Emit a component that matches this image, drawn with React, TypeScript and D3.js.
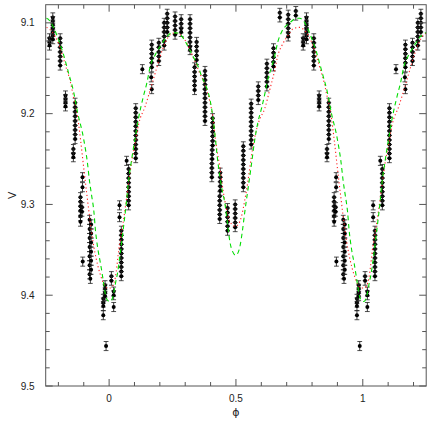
import React from 'react';
import * as d3 from 'd3';

const W = 436;
const H = 423;
const M = { left: 45.7, right: 9.8, top: 4.7, bottom: 37 };

const phaseDomain: [number, number] = [-0.25, 1.25];
const magDomain: [number, number] = [9.08, 9.5];
const xTickLabels = [0, 0.5, 1];
const xMinorTicks = [-0.2, -0.1, 0.1, 0.2, 0.3, 0.4, 0.6, 0.7, 0.8, 0.9, 1.1, 1.2];
const yTickLabels = [9.1, 9.2, 9.3, 9.4, 9.5];
const yMinorTicks = [9.12, 9.14, 9.16, 9.18, 9.22, 9.24, 9.26, 9.28, 9.32, 9.34, 9.36, 9.38, 9.42, 9.44, 9.46, 9.48];
const errBar = 0.005;

// Observations: [phase (0..1), V magnitude]
const observations: [number, number][] = [
  [0.009, 9.379], [0.009, 9.384],
  [0.018, 9.396], [0.018, 9.400], [0.018, 9.413],
  [0.041, 9.301], [0.041, 9.314],
  [0.048, 9.329], [0.048, 9.334], [0.048, 9.339], [0.048, 9.344], [0.048, 9.349], [0.048, 9.354],
  [0.048, 9.359], [0.048, 9.364], [0.048, 9.369], [0.048, 9.374], [0.048, 9.379],
  [0.069, 9.252],
  [0.077, 9.261], [0.077, 9.266], [0.077, 9.271], [0.077, 9.276], [0.077, 9.281], [0.077, 9.286],
  [0.077, 9.291], [0.077, 9.296], [0.077, 9.301],
  [0.105, 9.194], [0.105, 9.199], [0.105, 9.204], [0.105, 9.209], [0.105, 9.214], [0.105, 9.219],
  [0.105, 9.224], [0.105, 9.229], [0.105, 9.234], [0.105, 9.239], [0.105, 9.244], [0.105, 9.249],
  [0.131, 9.151],
  [0.168, 9.124], [0.168, 9.129], [0.168, 9.134], [0.168, 9.139], [0.168, 9.144], [0.168, 9.149],
  [0.166, 9.160], [0.168, 9.173],
  [0.196, 9.122], [0.196, 9.127], [0.196, 9.132], [0.196, 9.137], [0.196, 9.142],
  [0.217, 9.100], [0.217, 9.105], [0.217, 9.110], [0.217, 9.115], [0.217, 9.120], [0.217, 9.125],
  [0.229, 9.090], [0.229, 9.095], [0.229, 9.100], [0.229, 9.105], [0.229, 9.110],
  [0.260, 9.093], [0.260, 9.098], [0.260, 9.103], [0.260, 9.108], [0.260, 9.113],
  [0.284, 9.096], [0.284, 9.101], [0.284, 9.106], [0.284, 9.110],
  [0.319, 9.096], [0.319, 9.101], [0.319, 9.106], [0.319, 9.111], [0.319, 9.116], [0.319, 9.121],
  [0.319, 9.126], [0.319, 9.130],
  [0.345, 9.121], [0.345, 9.126], [0.345, 9.131], [0.345, 9.136], [0.345, 9.141],
  [0.337, 9.149], [0.337, 9.154], [0.337, 9.159], [0.337, 9.164], [0.337, 9.169], [0.337, 9.174],
  [0.378, 9.153], [0.378, 9.158], [0.378, 9.163], [0.378, 9.168], [0.378, 9.173], [0.378, 9.178],
  [0.378, 9.183], [0.378, 9.188], [0.378, 9.193], [0.378, 9.198], [0.378, 9.203], [0.378, 9.208],
  [0.408, 9.205], [0.408, 9.210], [0.408, 9.215], [0.408, 9.220], [0.408, 9.225], [0.408, 9.230],
  [0.408, 9.235], [0.406, 9.240], [0.406, 9.245], [0.406, 9.250], [0.405, 9.255], [0.405, 9.260],
  [0.405, 9.265], [0.405, 9.270],
  [0.438, 9.265], [0.438, 9.270], [0.438, 9.275], [0.438, 9.280], [0.438, 9.285],
  [0.436, 9.291], [0.436, 9.296], [0.436, 9.301], [0.436, 9.306], [0.436, 9.311], [0.436, 9.316],
  [0.467, 9.304], [0.467, 9.309], [0.467, 9.314], [0.467, 9.319], [0.467, 9.324], [0.467, 9.329],
  [0.497, 9.300], [0.497, 9.305], [0.497, 9.310], [0.497, 9.315], [0.497, 9.320], [0.497, 9.325],
  [0.529, 9.236], [0.529, 9.241], [0.529, 9.246], [0.529, 9.251], [0.529, 9.256], [0.529, 9.261],
  [0.529, 9.266], [0.529, 9.271], [0.529, 9.276], [0.529, 9.281],
  [0.560, 9.189], [0.560, 9.194], [0.560, 9.199], [0.560, 9.204], [0.560, 9.209], [0.560, 9.214],
  [0.560, 9.219], [0.560, 9.224], [0.560, 9.229], [0.560, 9.234],
  [0.588, 9.170], [0.588, 9.175], [0.588, 9.180], [0.588, 9.185],
  [0.622, 9.145], [0.622, 9.150], [0.622, 9.155], [0.622, 9.160], [0.622, 9.165], [0.622, 9.170],
  [0.648, 9.128], [0.648, 9.133], [0.648, 9.138], [0.648, 9.143], [0.648, 9.148],
  [0.673, 9.089], [0.673, 9.094],
  [0.706, 9.091], [0.706, 9.096], [0.706, 9.101], [0.706, 9.106], [0.706, 9.111], [0.706, 9.115],
  [0.736, 9.087], [0.736, 9.092],
  [0.765, 9.117], [0.765, 9.121], [0.765, 9.125],
  [0.778, 9.094], [0.778, 9.098], [0.778, 9.102], [0.778, 9.106], [0.778, 9.110], [0.778, 9.114], [0.778, 9.118],
  [0.807, 9.117], [0.807, 9.122], [0.807, 9.127], [0.807, 9.132], [0.807, 9.137], [0.807, 9.142], [0.807, 9.147],
  [0.828, 9.180], [0.828, 9.184], [0.828, 9.188], [0.828, 9.192],
  [0.866, 9.188], [0.866, 9.193], [0.866, 9.198], [0.866, 9.203], [0.866, 9.208], [0.866, 9.213],
  [0.866, 9.218], [0.866, 9.223], [0.866, 9.228],
  [0.859, 9.239], [0.859, 9.244], [0.859, 9.248],
  [0.895, 9.270], [0.895, 9.281],
  [0.887, 9.292], [0.887, 9.297], [0.887, 9.302], [0.887, 9.307], [0.887, 9.313], [0.887, 9.319],
  [0.893, 9.303], [0.893, 9.308],
  [0.896, 9.363],
  [0.923, 9.317], [0.929, 9.322], [0.923, 9.327], [0.929, 9.332], [0.923, 9.337], [0.929, 9.342],
  [0.923, 9.347], [0.929, 9.352], [0.923, 9.357], [0.929, 9.362], [0.923, 9.367], [0.929, 9.372],
  [0.923, 9.377], [0.926, 9.382],
  [0.984, 9.389], [0.984, 9.393], [0.984, 9.397], [0.984, 9.401],
  [0.977, 9.404], [0.977, 9.408], [0.977, 9.412], [0.977, 9.422],
  [0.988, 9.456],
];

// Model 1 (green dashed): [phase, V]
const modelGreen: [number, number][] = [
  [0.005, 9.407], [0.018, 9.398], [0.025, 9.387], [0.033, 9.376], [0.044, 9.354], [0.055, 9.329],
  [0.068, 9.298], [0.077, 9.273], [0.086, 9.256], [0.094, 9.241], [0.103, 9.226], [0.116, 9.205],
  [0.136, 9.180], [0.149, 9.166], [0.162, 9.148], [0.182, 9.135], [0.201, 9.126], [0.228, 9.115],
  [0.247, 9.111], [0.267, 9.111], [0.287, 9.115], [0.313, 9.127], [0.331, 9.137], [0.351, 9.148],
  [0.365, 9.159], [0.385, 9.172], [0.398, 9.185], [0.411, 9.208], [0.430, 9.256], [0.444, 9.282],
  [0.457, 9.300], [0.467, 9.322], [0.476, 9.341], [0.487, 9.352], [0.499, 9.356], [0.510, 9.352],
  [0.518, 9.343], [0.525, 9.330], [0.535, 9.308], [0.548, 9.282], [0.561, 9.256], [0.574, 9.229],
  [0.587, 9.209], [0.601, 9.194], [0.614, 9.178], [0.625, 9.163], [0.640, 9.149], [0.653, 9.136],
  [0.665, 9.121], [0.680, 9.110], [0.712, 9.100], [0.739, 9.095], [0.752, 9.095], [0.781, 9.105],
  [0.801, 9.119], [0.817, 9.132], [0.840, 9.155], [0.860, 9.176], [0.876, 9.199], [0.899, 9.227],
  [0.914, 9.253], [0.923, 9.275], [0.931, 9.290], [0.940, 9.308], [0.946, 9.328], [0.955, 9.348],
  [0.966, 9.365], [0.973, 9.377], [0.979, 9.388], [0.986, 9.400], [0.995, 9.406],
];

// Model 2 (red dotted): [phase, V]
const modelRed: [number, number][] = [
  [0.006, 9.392], [0.020, 9.386], [0.028, 9.374], [0.038, 9.350], [0.051, 9.328], [0.064, 9.303],
  [0.077, 9.276], [0.090, 9.251], [0.103, 9.232], [0.116, 9.212], [0.142, 9.192], [0.162, 9.174],
  [0.182, 9.155], [0.201, 9.137], [0.221, 9.122], [0.241, 9.113], [0.260, 9.111], [0.280, 9.113],
  [0.299, 9.119], [0.319, 9.130], [0.339, 9.143], [0.355, 9.154], [0.378, 9.168], [0.398, 9.188],
  [0.410, 9.205], [0.420, 9.230], [0.437, 9.260], [0.449, 9.284], [0.461, 9.303], [0.472, 9.316],
  [0.484, 9.322], [0.496, 9.324], [0.509, 9.322], [0.522, 9.313], [0.535, 9.295], [0.548, 9.273],
  [0.561, 9.247], [0.574, 9.226], [0.590, 9.209], [0.614, 9.194], [0.633, 9.174], [0.653, 9.152],
  [0.665, 9.136], [0.683, 9.124], [0.705, 9.114], [0.728, 9.106], [0.751, 9.105], [0.775, 9.110],
  [0.801, 9.123], [0.828, 9.147], [0.848, 9.166], [0.860, 9.182], [0.874, 9.200], [0.887, 9.228],
  [0.900, 9.260], [0.913, 9.291], [0.925, 9.318], [0.937, 9.342], [0.950, 9.361], [0.965, 9.377],
  [0.980, 9.388], [0.993, 9.392],
];

function wrap(arr: [number, number][], lo: number, hi: number): [number, number][] {
  const out: [number, number][] = [];
  for (const [p, v] of arr) {
    for (const s of [-1, 0, 1]) {
      const q = p + s;
      if (q >= lo && q <= hi) out.push([q, v]);
    }
  }
  return out.sort((a, b) => a[0] - b[0]);
}

export default function App() {
  const x = d3.scaleLinear().domain(phaseDomain).range([M.left, W - M.right]);
  const y = d3.scaleLinear().domain(magDomain).range([M.top, H - M.bottom]);
  const x0 = M.left, x1 = W - M.right, y0 = M.top, y1 = H - M.bottom;

  const pts = wrap(observations, -0.25, 1.25);
  const green = wrap(modelGreen, -0.32, 1.32);
  const red = wrap(modelRed, -0.32, 1.32);
  const line = d3.line<[number, number]>().x(d => x(d[0])).y(d => y(d[1])).curve(d3.curveMonotoneX);

  const axisColor = '#555';
  const font = 'Liberation Sans, Arial, Helvetica, sans-serif';

  return (
    <svg width={W} height={H} style={{ position: 'absolute', left: 0, top: 0, background: '#fff' }}>
      <defs>
        <clipPath id="plot">
          <rect x={x0} y={y0} width={x1 - x0} height={y1 - y0} />
        </clipPath>
      </defs>
      <g clipPath="url(#plot)">
        {pts.map(([p, v], i) => (
          <g key={i}>
            <line x1={x(p)} x2={x(p)} y1={y(v - errBar)} y2={y(v + errBar)} stroke="#222" strokeWidth={0.9} />
            <line x1={x(p) - 2.4} x2={x(p) + 2.4} y1={y(v - errBar)} y2={y(v - errBar)} stroke="#222" strokeWidth={0.8} />
            <line x1={x(p) - 2.4} x2={x(p) + 2.4} y1={y(v + errBar)} y2={y(v + errBar)} stroke="#222" strokeWidth={0.8} />
            <circle cx={x(p)} cy={y(v)} r={2.0} fill="#000" />
          </g>
        ))}
        <path d={line(red) || ''} fill="none" stroke="#ff2020" strokeWidth={1.1} strokeDasharray="1.2,2.6" />
        <path d={line(green) || ''} fill="none" stroke="#00dd00" strokeWidth={1.1} strokeDasharray="4.5,3.5" />
      </g>
      <rect x={x0} y={y0} width={x1 - x0} height={y1 - y0} fill="none" stroke={axisColor} strokeWidth={1} />
      {xTickLabels.map(t => (
        <g key={'xm' + t}>
          <line x1={x(t)} x2={x(t)} y1={y1} y2={y1 - 7} stroke={axisColor} />
          <line x1={x(t)} x2={x(t)} y1={y0} y2={y0 + 7} stroke={axisColor} />
          <text x={x(t)} y={y1 + 16} textAnchor="middle" fontFamily={font} fontSize={10} fill="#222">{t}</text>
        </g>
      ))}
      {xMinorTicks.map(t => (
        <g key={'xn' + t}>
          <line x1={x(t)} x2={x(t)} y1={y1} y2={y1 - 4} stroke={axisColor} />
          <line x1={x(t)} x2={x(t)} y1={y0} y2={y0 + 4} stroke={axisColor} />
        </g>
      ))}
      {yTickLabels.map(t => (
        <g key={'ym' + t}>
          <line x1={x0} x2={x0 + 7} y1={y(t)} y2={y(t)} stroke={axisColor} />
          <line x1={x1} x2={x1 - 7} y1={y(t)} y2={y(t)} stroke={axisColor} />
          <text x={x0 - 11} y={y(t) + 3.6} textAnchor="end" fontFamily={font} fontSize={10} fill="#222">{t.toFixed(1)}</text>
        </g>
      ))}
      {yMinorTicks.map(t => (
        <g key={'yn' + t}>
          <line x1={x0} x2={x0 + 4} y1={y(t)} y2={y(t)} stroke={axisColor} />
          <line x1={x1} x2={x1 - 4} y1={y(t)} y2={y(t)} stroke={axisColor} />
        </g>
      ))}
      <text x={(x0 + x1) / 2} y={H - 7} textAnchor="middle" fontFamily="DejaVu Sans, sans-serif" fontSize={11} fill="#222">ϕ</text>
      <text transform={`translate(15.5, ${(y0 + y1) / 2}) rotate(-90)`} textAnchor="middle" fontFamily={font} fontSize={11} fill="#222">V</text>
    </svg>
  );
}
